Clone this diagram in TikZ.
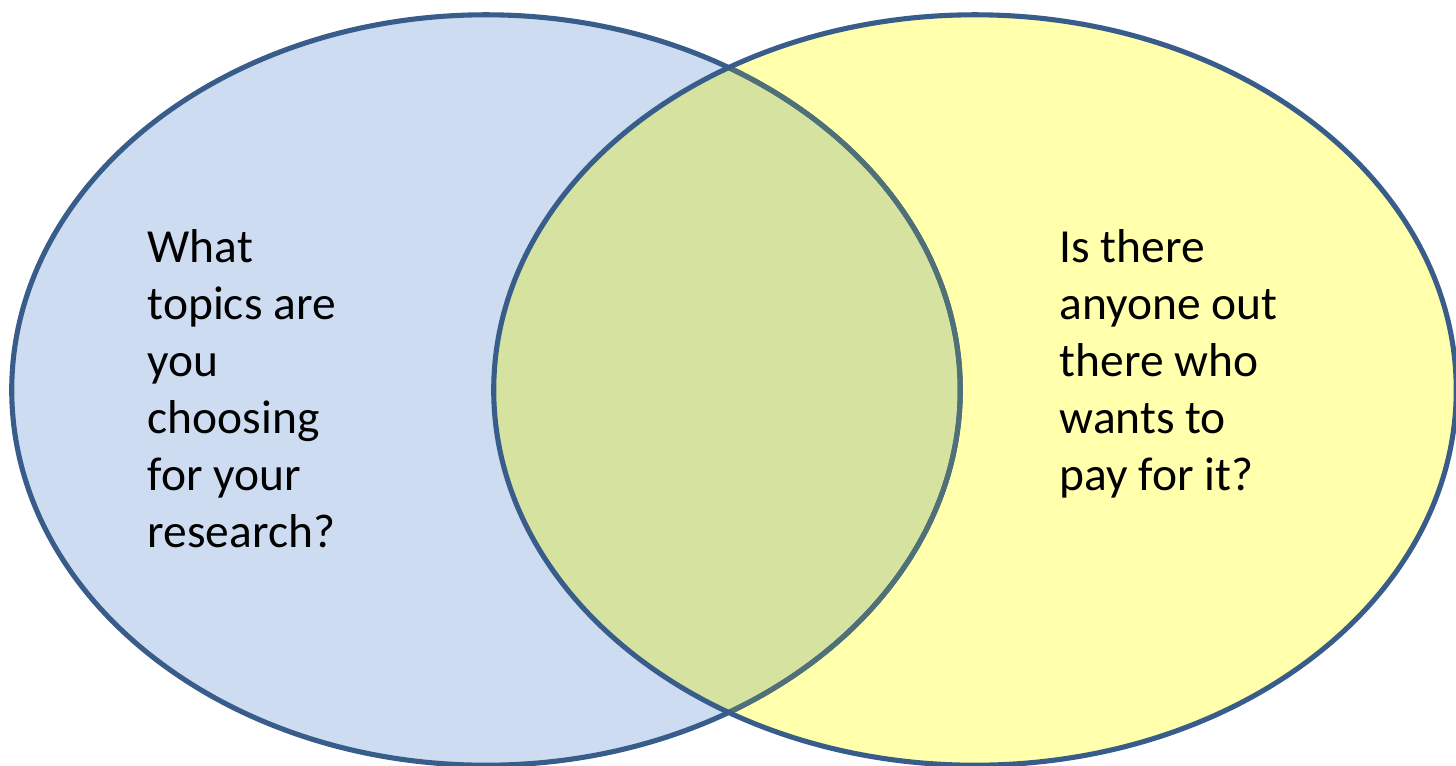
\documentclass[tikz,border=0pt]{standalone}
\usepackage{fontspec}
\setmainfont{Carlito}
\usetikzlibrary{positioning}
\definecolor{rim}{RGB}{56,93,138}
\definecolor{bluefill}{RGB}{205,220,240}
\definecolor{yellowfill}{RGB}{255,255,172}
\definecolor{lensfill}{RGB}{214,226,160}
\definecolor{rimlens}{RGB}{80,112,120}

\begin{document}
\begin{tikzpicture}[x=0.01cm,y=-0.01cm,
				setrim/.style={draw=rim,line width=1.45pt},
				label/.style={anchor=north west,inner sep=0pt,align=left,
					font=\fontsize{13.5}{16.2}\selectfont}]
				\useasboundingbox (0,0) rectangle (1456,766);
				\def\leftset{(486,390) ellipse [x radius=4.74cm,y radius=3.75cm]}
				\def\rightset{(975,390) ellipse [x radius=4.81cm,y radius=3.75cm]}
				% fills
				\fill[bluefill] \leftset;
				\fill[yellowfill] \rightset;
				\begin{scope}
					\clip \leftset;
					\fill[lensfill] \rightset;
				\end{scope}
				% borders
				\draw[setrim] \leftset;
				\begin{scope}
					\clip \rightset;
					\draw[draw=rimlens,line width=1.45pt] \leftset;
				\end{scope}
				\draw[setrim] \rightset;
				% texts
				\node[label] (lefttext) at (147,229) {What\\topics are\\you\\choosing\\for your\\research?};
				\node[label] (righttext) at (1059,229) {Is there\\anyone out\\there who\\wants to\\pay for it?};
			\end{tikzpicture}
\end{document}
